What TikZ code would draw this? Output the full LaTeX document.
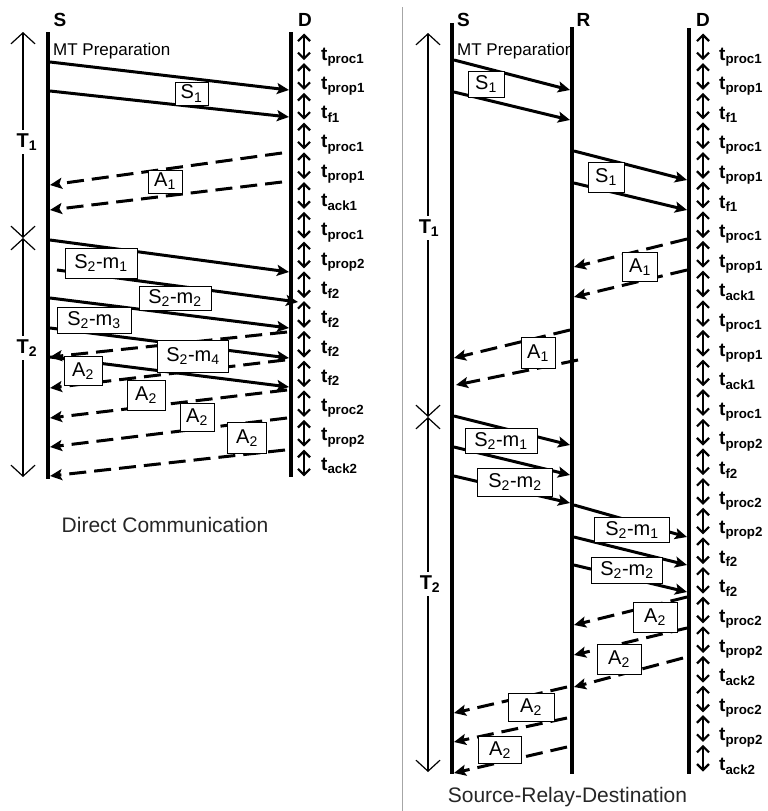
\documentclass[tikz,border=0pt]{standalone}
\usepackage{fontspec}
\setmainfont{Liberation Sans}
\usetikzlibrary{arrows.meta}

\begin{document}
\begin{tikzpicture}[x=1pt, y=-1pt,
	life/.style={line width=4.5pt},
	msg/.style={line width=3pt, -{Stealth[length=12pt, width=11pt, inset=2.5pt]}},
	ack/.style={msg, dash pattern=on 17pt off 8pt},
	lbl/.style={draw, line width=0.8pt, fill=white, inner sep=0pt, font=\fontsize{20}{20}\selectfont},
	tick/.style={line width=2.2pt, {Straight Barb[length=6pt, width=12pt]}-{Straight Barb[length=6pt, width=12pt]}},
	span/.style={line width=1.2pt, {Straight Barb[length=11pt, width=24pt]}-{Straight Barb[length=11pt, width=24pt]}},
	tlab/.style={anchor=base west, inner sep=0pt, font=\bfseries\fontsize{19}{19}\selectfont},
	ent/.style={inner sep=0pt, font=\bfseries\fontsize{19}{19}\selectfont},
	captxt/.style={text=black!85, font=\fontsize{21}{21}\selectfont}]
	\useasboundingbox (0,0) rectangle (768,811);
	\draw[black!35, line width=1pt] (402,7) -- (402,811);

	% Direct Communication
	\node[ent] (S) at (60,20) {S};
	\node[ent] (D) at (305,20) {D};
	\node[anchor=base west, inner sep=0pt, font=\fontsize{17}{17}\selectfont] (mtL) at (53,55) {MT Preparation};
	\draw[life] (48,32) -- (48,479);
	\draw[life] (291,32) -- (291,477);
	\coordinate (t1a) at (23,32);
	\coordinate (t1b) at (23,238);
	\coordinate (t2b) at (23,477);
	\draw[span] (t1a) -- (t1b);
	\draw[span] (t1b) -- (t2b);
	\node[ent, fill=white, inner ysep=4pt, font=\bfseries\fontsize{20}{20}\selectfont] (T1) at (27,142) {T\textsubscript{1}};
	\node[ent, fill=white, inner ysep=4pt, font=\bfseries\fontsize{20}{20}\selectfont] (T2) at (27,348) {T\textsubscript{2}};
	\foreach \lab [count=\i from 0] in {proc1,prop1,f1,proc1,prop1,ack1,proc1,prop2,f2,f2,f2,f2,proc2,prop2,ack2} {
		\coordinate (la\i) at (304,33.5+29.73*\i);
		\coordinate (lb\i) at (304,60.2+29.73*\i);
		\draw[tick] (la\i) -- (lb\i);
		\node[tlab] (lt\i) at (321,60+29.3*\i) {t\textsubscript{\lab}};
	}
	\draw[msg] (50,62) -- (289,90);
	\draw[msg] (50,91) -- (289,117);
	\draw[ack] (282,153) -- (50,185);
	\draw[ack] (282,182) -- (50,210);
	\draw[msg] (50,240) -- (289,272);
	\draw[msg] (57,270) -- (298,302);
	\draw[msg] (50,298) -- (289,328);
	\draw[msg] (50,328) -- (289,358);
	\draw[msg] (50,357) -- (289,387);
	\draw[ack] (287,332) -- (50,357);
	\draw[ack] (285,360) -- (50,388);
	\draw[ack] (287,390) -- (50,418);
	\draw[ack] (287,418) -- (50,447);
	\draw[ack] (285,450) -- (50,476);
	\node[lbl, minimum width=33pt, minimum height=23pt] (s1L) at (191.5,93.5) {S\textsubscript{1}};
	\node[lbl, minimum width=34pt, minimum height=23pt] (a1L) at (165,181.5) {A\textsubscript{1}};
	\node[lbl, minimum width=72pt, minimum height=30pt] (m1L) at (101,263) {S\textsubscript{2}-m\textsubscript{1}};
	\node[lbl, minimum width=72pt, minimum height=24pt] (m2L) at (175,298) {S\textsubscript{2}-m\textsubscript{2}};
	\node[lbl, minimum width=74pt, minimum height=26pt] (m3L) at (94,320) {S\textsubscript{2}-m\textsubscript{3}};
	\node[lbl, minimum width=71pt, minimum height=32pt] (m4L) at (193,356) {S\textsubscript{2}-m\textsubscript{4}};
	\node[lbl, minimum width=38pt, minimum height=29pt] (a2La) at (83,371) {A\textsubscript{2}};
	\node[lbl, minimum width=38pt, minimum height=30pt] (a2Lb) at (146,395) {A\textsubscript{2}};
	\node[lbl, minimum width=34pt, minimum height=28pt] (a2Lc) at (197,417) {A\textsubscript{2}};
	\node[lbl, minimum width=39pt, minimum height=31pt] (a2Ld) at (247,438) {A\textsubscript{2}};
	\node[captxt] (capL) at (165,525) {Direct Communication};

	% Source-Relay-Destination
	\node[ent] (SR) at (463.5,20) {S};
	\node[ent] (R) at (583.5,20) {R};
	\node[ent] (DR) at (703,20) {D};
	\node[anchor=base west, inner sep=0pt, font=\fontsize{17}{17}\selectfont] (mtR) at (457,55) {MT Preparation};
	\draw[life] (452,23) -- (452,774);
	\draw[life] (572,27) -- (572,774);
	\draw[life] (689,28) -- (689,774);
	\coordinate (r1a) at (428,33);
	\coordinate (r1b) at (428,417);
	\coordinate (r2b) at (428,772);
	\draw[span] (r1a) -- (r1b);
	\draw[span] (r1b) -- (r2b);
	\node[ent, fill=white, inner ysep=4pt, font=\bfseries\fontsize{20}{20}\selectfont] (T1R) at (429,228) {T\textsubscript{1}};
	\node[ent, fill=white, inner ysep=4pt, font=\bfseries\fontsize{20}{20}\selectfont] (T2R) at (430,584) {T\textsubscript{2}};
	\foreach \lab [count=\i from 0] in {proc1,prop1,f1,proc1,prop1,f1,proc1,prop1,ack1,proc1,prop1,ack1,proc1,prop2,f2,proc2,prop2,f2,f2,proc2,prop2,ack2,proc2,prop2,ack2} {
		\coordinate (ra\i) at (703,33.5+29.64*\i);
		\coordinate (rb\i) at (703,60.2+29.64*\i);
		\draw[tick] (ra\i) -- (rb\i);
		\node[tlab] (rt\i) at (719,60+29.6*\i) {t\textsubscript{\lab}};
	}
	\draw[msg] (454,60) -- (570,90);
	\draw[msg] (454,92) -- (570,120);
	\draw[msg] (574,151) -- (687,180);
	\draw[msg] (574,183) -- (687,210);
	\draw[ack] (687,239) -- (574,267);
	\draw[ack] (687,270) -- (574,297);
	\draw[ack] (570,330) -- (454,358);
	\draw[ack] (578,360) -- (456,385);
	\draw[msg] (454,416) -- (570,445);
	\draw[msg] (454,447) -- (570,475);
	\draw[msg] (454,476) -- (570,503);
	\draw[msg] (574,505) -- (687,537);
	\draw[msg] (574,537) -- (687,565);
	\draw[msg] (574,565) -- (687,592);
	\draw[ack] (687,597) -- (574,625);
	\draw[ack] (687,628) -- (574,655);
	\draw[ack] (683,658) -- (574,687);
	\draw[ack] (567,687) -- (454,713);
	\draw[ack] (567,718) -- (454,742);
	\draw[ack] (567,747) -- (454,773);
	\node[lbl, minimum width=36pt, minimum height=26pt] (s1Ra) at (486,84) {S\textsubscript{1}};
	\node[lbl, minimum width=36pt, minimum height=30pt] (s1Rb) at (606,177) {S\textsubscript{1}};
	\node[lbl, minimum width=35pt, minimum height=29pt] (a1Ra) at (640,267) {A\textsubscript{1}};
	\node[lbl, minimum width=34pt, minimum height=31pt] (a1Rb) at (538,353) {A\textsubscript{1}};
	\node[lbl, minimum width=72pt, minimum height=25pt] (m1Ra) at (501,441) {S\textsubscript{2}-m\textsubscript{1}};
	\node[lbl, minimum width=75pt, minimum height=28pt] (m2Ra) at (515,482) {S\textsubscript{2}-m\textsubscript{2}};
	\node[lbl, minimum width=75pt, minimum height=25pt] (m1Rb) at (632,530) {S\textsubscript{2}-m\textsubscript{1}};
	\node[lbl, minimum width=71pt, minimum height=26pt] (m2Rb) at (627,570) {S\textsubscript{2}-m\textsubscript{2}};
	\node[lbl, minimum width=44pt, minimum height=30pt] (a2Ra) at (655,617) {A\textsubscript{2}};
	\node[lbl, minimum width=44pt, minimum height=30pt] (a2Rb) at (619,659) {A\textsubscript{2}};
	\node[lbl, minimum width=46pt, minimum height=28pt] (a2Rc) at (531,707) {A\textsubscript{2}};
	\node[lbl, minimum width=43pt, minimum height=27pt] (a2Rd) at (500,750) {A\textsubscript{2}};
	\node[captxt] (capR) at (567.5,797) {Source-Relay-Destination};
\end{tikzpicture}
\end{document}
